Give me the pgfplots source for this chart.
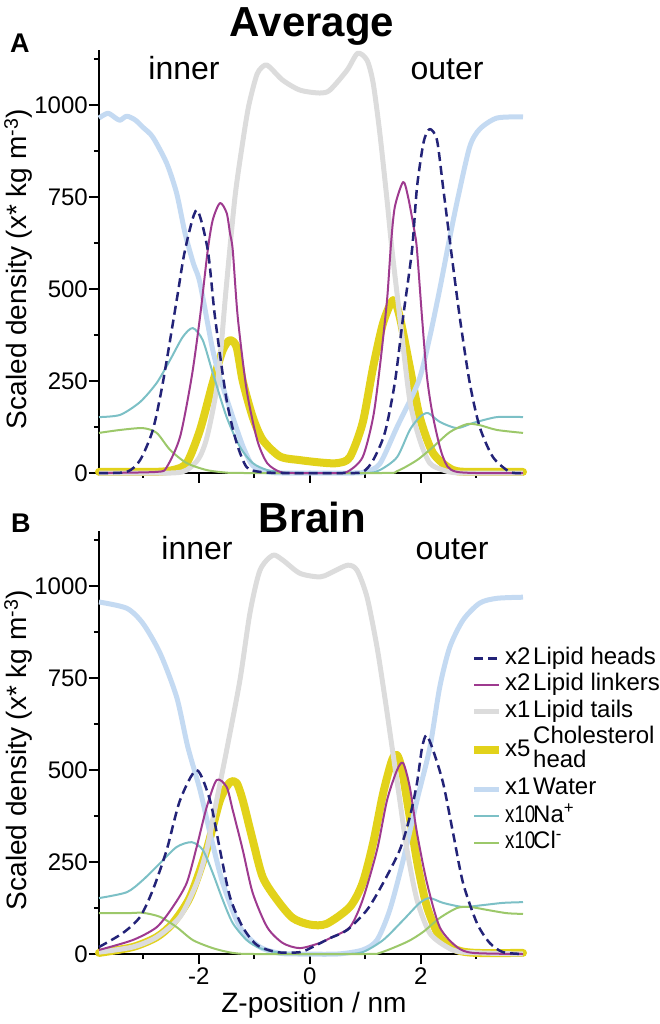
\documentclass[border=0pt]{standalone}
\usepackage{fontspec}
\setmainfont{Liberation Sans}
\usepackage{pgfplots}
\pgfplotsset{compat=1.18}

\definecolor{cHeads}{HTML}{232378}
\definecolor{cLink}{HTML}{9E3A8F}
\definecolor{cTails}{HTML}{DCDCDC}
\definecolor{cChol}{HTML}{E2D21A}
\definecolor{cWater}{HTML}{C4DAF2}
\definecolor{cNa}{HTML}{7CC0C6}
\definecolor{cCl}{HTML}{9CC86A}

\newcommand{\mult}[1]{\makebox[28pt][l]{#1}}
\newcommand{\multw}[1]{\makebox[28pt][l]{\scalebox{0.78}[1]{#1}}}
\newcommand{\ls}{\rule[-6.5pt]{0pt}{24.5pt}}

\pgfplotsset{
  sHd/.style={color=cHeads, line width=2.5pt, dash pattern=on 9pt off 5pt},
  sLk/.style={color=cLink, line width=2pt},
  sTl/.style={color=cTails, line width=5pt},
  sCh/.style={color=cChol, line width=8pt, line cap=round},
  sWt/.style={color=cWater, line width=5pt},
  sNa/.style={color=cNa, line width=2pt},
  sCl/.style={color=cCl, line width=2pt},
  dens/.style={
    scale only axis, width=424pt, height=423pt,
    xmin=-3.8, xmax=3.84, ymin=0, ymax=1150,
    axis lines*=left,
    axis line style={-, line width=2.5pt},
    tick align=outside,
    major tick length=10pt, minor tick length=5pt,
    every tick/.style={black, line width=2pt},
    xtick={-2,0,2}, minor xtick={-3,-1,1,3},
    ytick={0,250,500,750,1000}, yticklabels={0,250,500,750,1000},
    minor ytick={125,375,625,875,1125},
    ticklabel style={font=\fontsize{24}{24}\selectfont},
    yticklabel style={inner sep=1pt},
    xticklabel style={inner sep=4pt},
    label style={font=\fontsize{28}{28}\selectfont},
    ylabel={Scaled density (x* kg m\textsuperscript{-3})},
    ylabel style={at={(axis description cs:-0.170,0.482)}, anchor=base},
    clip=false,
    every axis plot/.append style={smooth, tension=0.45, line join=round},
  },
}

\begin{document}
\begin{tikzpicture}
\useasboundingbox (-99pt,-551pt) rectangle (561pt,473pt);

% ---------- panel A: average ----------
\begin{axis}[dens, at={(0pt,0pt)}, xticklabels={}]
\addplot[sCh] table {
-3.80 3
-2.80 3
-2.47 8
-2.22 27
-1.98 117
-1.75 245
-1.57 334
-1.44 361
-1.32 342
-1.21 250
-1.03 152
-0.85 90
-0.54 45
-0.18 35
0.23 28
0.50 27
0.72 43
0.95 136
1.14 288
1.32 408
1.50 470
1.62 424
1.80 288
1.98 152
2.22 54
2.58 8
3.00 3
3.84 3
};
\addplot[sWt] table {
-3.80 965
-3.64 978
-3.50 965
-3.42 959
-3.30 970
-3.15 960
-3.01 940
-2.83 913
-2.58 842
-2.40 760
-2.25 652
-2.10 570
-1.98 516
-1.75 334
-1.60 250
-1.39 152
-1.20 70
-1.03 20
-0.77 3
-0.50 0
0.00 0
0.80 0
1.00 3
1.26 25
1.57 125
1.96 250
2.16 370
2.34 500
2.52 640
2.67 750
2.88 887
3.06 935
3.37 965
3.84 968
};
\addplot[sTl] table {
-3.80 0
-2.50 0
-2.22 8
-2.00 40
-1.85 100
-1.66 250
-1.51 500
-1.35 750
-1.21 900
-1.10 1000
-0.95 1085
-0.81 1109
-0.72 1103
-0.49 1068
-0.18 1041
0.18 1033
0.36 1041
0.67 1095
0.86 1141
1.03 1122
1.14 1060
1.26 924
1.39 742
1.48 606
1.62 424
1.80 198
1.98 90
2.16 27
2.40 8
2.70 0
3.84 0
};
\addplot[sNa] table {
-3.80 152
-3.42 158
-3.06 193
-2.76 245
-2.52 307
-2.29 370
-2.11 394
-1.93 361
-1.75 272
-1.50 152
-1.26 71
-1.03 27
-0.77 8
-0.49 2
-0.20 0
1.00 0
1.26 8
1.57 43
1.80 117
1.98 152
2.13 163
2.34 139
2.65 122
2.94 136
3.37 152
3.84 152
};
\addplot[sCl] table {
-3.80 109
-3.42 117
-3.01 122
-2.76 109
-2.52 63
-2.22 27
-1.86 8
-1.50 1
-1.20 0
1.30 0
1.57 5
1.93 35
2.22 71
2.52 111
2.83 133
3.06 130
3.37 117
3.84 109
};
\addplot[sLk] table {
-3.80 0
-2.76 3
-2.58 16
-2.34 98
-2.13 261
-1.98 424
-1.84 606
-1.75 688
-1.62 734
-1.50 707
-1.44 652
-1.39 606
-1.30 424
-1.14 226
-0.95 90
-0.77 27
-0.54 3
-0.30 0
0.40 0
0.67 3
0.95 43
1.14 152
1.26 288
1.39 470
1.46 620
1.53 723
1.68 791
1.77 750
1.89 652
1.93 606
2.02 424
2.11 261
2.22 152
2.40 43
2.65 3
3.84 0
};
\addplot[sHd] table {
-3.80 0
-3.30 3
-3.06 35
-2.83 117
-2.65 245
-2.40 470
-2.25 606
-2.04 715
-1.84 606
-1.71 424
-1.50 198
-1.32 82
-1.14 16
-0.90 3
-0.50 0
0.60 0
0.95 3
1.14 35
1.35 109
1.53 245
1.68 424
1.84 606
1.93 777
2.05 900
2.16 935
2.29 905
2.40 777
2.52 633
2.70 424
2.88 245
3.06 125
3.30 43
3.60 3
3.84 0
};
\end{axis}

% ---------- panel B: brain ----------
\begin{axis}[dens, at={(0pt,-481pt)},
  xticklabels={-2,0,2},
  xlabel={Z-position / nm},
  xlabel style={at={(axis description cs:0.507,-0.139)}, anchor=base},
  legend image code/.code={\draw[#1, line cap=butt] (0pt,0pt) -- (25pt,0pt);},
  legend style={draw=none, fill=none, at={(axis description cs:0.875,0.728)},
    anchor=north west, inner sep=0pt, row sep=2pt, column sep=2pt,
    nodes={inner sep=0pt, anchor=west, text depth=},
    font=\fontsize{24}{24}\selectfont},
  legend cell align=left]
\addplot[sCh, forget plot] table {
-3.80 3
-3.19 19
-2.76 46
-2.47 84
-2.16 155
-1.86 283
-1.62 418
-1.44 467
-1.32 465
-1.21 418
-1.03 310
-0.85 209
-0.59 147
-0.31 98
0.00 80
0.30 82
0.72 128
0.95 193
1.14 302
1.32 437
1.48 527
1.57 541
1.66 500
1.80 372
1.95 236
2.11 128
2.34 46
2.65 11
3.00 3
3.84 3
};
\addplot[sWt, forget plot] table {
-3.80 957
-3.30 940
-3.01 899
-2.70 818
-2.40 698
-2.20 563
-1.98 446
-1.80 329
-1.57 193
-1.26 73
-0.90 19
-0.54 2
-0.20 0
0.50 0
0.95 11
1.21 38
1.44 120
1.68 255
1.93 418
2.16 560
2.34 726
2.52 834
2.76 908
3.06 954
3.37 967
3.84 970
};
\addplot[sTl, forget plot] table {
-3.80 5
-3.19 19
-2.76 46
-2.34 101
-2.04 193
-1.86 283
-1.68 418
-1.50 554
-1.26 745
-1.08 927
-0.90 1043
-0.67 1084
-0.49 1071
-0.18 1035
0.18 1025
0.36 1035
0.68 1057
0.85 1043
1.03 970
1.21 834
1.35 698
1.48 563
1.62 418
1.75 283
1.93 147
2.16 57
2.47 19
2.76 5
3.84 0
};
\addplot[sNa, forget plot] table {
-3.80 152
-3.30 168
-3.01 201
-2.70 247
-2.40 291
-2.13 304
-1.93 283
-1.75 220
-1.57 147
-1.39 84
-1.14 38
-0.90 16
-0.54 3
-0.20 0
0.60 0
0.95 5
1.32 38
1.68 92
1.98 139
2.16 152
2.40 139
2.76 128
3.12 133
3.48 139
3.84 141
};
\addplot[sCl, forget plot] table {
-3.80 111
-3.30 111
-3.01 112
-2.70 101
-2.40 73
-2.11 38
-1.75 16
-1.39 3
-1.00 0
1.00 0
1.26 3
1.75 33
2.04 60
2.34 98
2.65 125
2.88 128
3.19 120
3.55 111
3.84 109
};
\addplot[sLk, forget plot] table {
-3.80 11
-3.19 38
-2.76 73
-2.47 128
-2.22 193
-2.04 291
-1.86 399
-1.68 473
-1.50 454
-1.39 391
-1.21 283
-1.03 166
-0.77 73
-0.49 30
-0.18 16
0.18 30
0.36 43
0.72 73
0.95 147
1.21 283
1.39 418
1.57 500
1.68 519
1.80 454
1.93 329
2.11 193
2.34 73
2.65 19
2.94 3
3.84 0
};
\addplot[sHd, forget plot] table {
-3.80 19
-3.37 57
-3.06 101
-2.83 174
-2.58 283
-2.34 418
-2.04 500
-1.80 418
-1.62 283
-1.44 155
-1.21 73
-0.95 24
-0.59 5
-0.18 5
0.05 19
0.36 43
0.67 65
1.03 120
1.32 193
1.62 283
1.80 372
1.93 465
2.02 560
2.10 595
2.22 554
2.40 465
2.58 329
2.76 193
3.01 84
3.24 30
3.48 5
3.84 0
};
\addlegendimage{sHd}
\addlegendentry{\ls\mult{x2}Lipid heads}
\addlegendimage{sLk}
\addlegendentry{\ls\mult{x2}Lipid linkers}
\addlegendimage{sTl}
\addlegendentry{\ls\mult{x1}Lipid tails}
\addlegendimage{sCh, line cap=butt}
\addlegendentry{\mult{x5}\begin{tabular}{@{}l@{}}Cholesterol\\head\end{tabular}}
\addlegendimage{sWt}
\addlegendentry{\ls\mult{x1}Water}
\addlegendimage{sNa}
\addlegendentry{\ls\multw{x10}Na\textsuperscript{+}}
\addlegendimage{sCl}
\addlegendentry{\ls\multw{x10}Cl\textsuperscript{-}}
\end{axis}

% ---------- titles and annotations ----------
\node[anchor=base, font=\fontsize{42}{42}\selectfont\bfseries] at (213pt,436pt) {Average};
\node[anchor=base, font=\fontsize{27}{27}\selectfont\bfseries] at (-79pt,420pt) {A};
\node[anchor=base, font=\fontsize{32}{32}\selectfont] at (85pt,393pt) {inner};
\node[anchor=base, font=\fontsize{32}{32}\selectfont] at (348pt,393pt) {outer};
\node[anchor=base, font=\fontsize{42}{42}\selectfont\bfseries] at (213.5pt,-60pt) {Brain};
\node[anchor=base, font=\fontsize{27}{27}\selectfont\bfseries] at (-78pt,-60pt) {B};
\node[anchor=base, font=\fontsize{32}{32}\selectfont] at (98pt,-87pt) {inner};
\node[anchor=base, font=\fontsize{32}{32}\selectfont] at (353pt,-87pt) {outer};
\end{tikzpicture}
\end{document}
